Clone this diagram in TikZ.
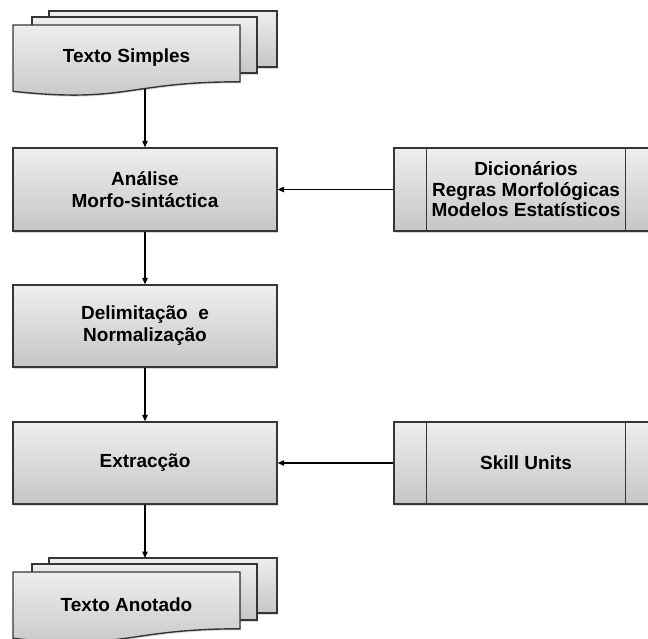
\documentclass[tikz,border=0pt]{standalone}
\usepackage{fontspec}
\setmainfont{Liberation Sans}
\usetikzlibrary{arrows.meta,shadows,calc}
\definecolor{boxtop}{HTML}{EEEEEE}
\definecolor{boxbot}{HTML}{C6C6C6}
\definecolor{edge}{HTML}{363636}
\tikzset{
  panel/.style={draw=edge, line width=1.4pt, top color=boxtop, bottom color=boxbot,
    drop shadow={opacity=0.3, shadow xshift=1.2pt, shadow yshift=-1.5pt}},
  label/.style={font=\fontsize{19}{22}\selectfont\bfseries, align=center, inner sep=0pt},
  stepbox/.style={panel, label, minimum width=264pt, minimum height=83pt},
  procbox/.style={stepbox, font=\fontsize{19}{20.5}\selectfont\bfseries},
  flow/.style={draw=black, line width=1.1pt, -{Triangle[length=6.5pt,width=5.5pt]}},
}
\begin{document}
\begin{tikzpicture}[x=1pt, y=-1pt]
\useasboundingbox (0,0) rectangle (648,638);
\clip (0,0) rectangle (648,638);

% input document stack
\path[panel] (49,11) rectangle (277,67);
\path[panel] (32,17) rectangle (257,73);
\path[panel] (13,25) -- (240,25) -- (240,81.8)
  .. controls (126.5,81.8) and (126.5,103.6) .. (13,91.3) -- cycle;
\node[label] (simples) at (126.5,58) {Texto Simples};
\coordinate (simples-out) at (145,88.5);

% processing steps
\node[stepbox] (analise) at (145,189.5) {Análise\\Morfo-sintáctica};
\node[stepbox, minimum height=82pt] (delim) at (145,326) {Delimitação\ \ e\\Normalização};
\node[stepbox, minimum height=82pt] (extr) at (145,463) {Extracção};

% resources (predefined process boxes)
\node[procbox] (dic) at (526,189.5) {Dicionários\\Regras Morfológicas\\Modelos Estatísticos};
\node[procbox, minimum height=82pt] (skill) at (526,463) {Skill Units};
\foreach \b in {dic,skill}{
  \draw[edge, line width=1.4pt] ($(\b.north west)+(33,0)$) -- ($(\b.south west)+(33,0)$);
  \draw[edge, line width=1.4pt] ($(\b.north east)+(-33,0)$) -- ($(\b.south east)+(-33,0)$);
}

% output document stack
\begin{scope}[shift={(0,547)}]
  \path[panel] (49,11) rectangle (277,66);
  \path[panel] (32,17) rectangle (257,73);
  \path[panel] (13,25) -- (240,25) -- (240,81.8)
    .. controls (126.5,81.8) and (126.5,103.6) .. (13,91.3) -- cycle;
  \node[label] (anotado) at (126.5,58) {Texto Anotado};
  \coordinate (anotado-in) at (145,11);
\end{scope}

% connectors
\draw[flow] (simples-out) -- (analise.north);
\draw[flow] (analise.south) -- (delim.north);
\draw[flow] (delim.south) -- (extr.north);
\draw[flow] (extr.south) -- (anotado-in);
\draw[flow] (dic.west) -- (analise.east);
\draw[flow] (skill.west) -- (extr.east);
\end{tikzpicture}
\end{document}
